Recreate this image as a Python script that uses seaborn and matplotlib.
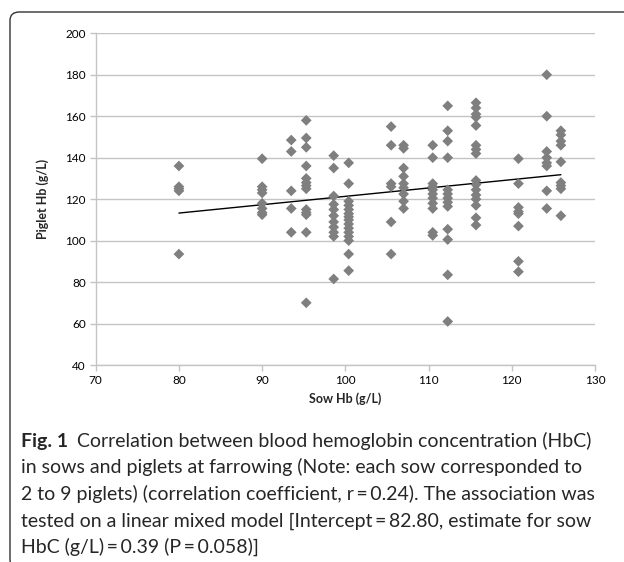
import numpy as np
import pandas as pd
import matplotlib.pyplot as plt
import seaborn as sns
from matplotlib.patches import FancyBboxPatch

# sow Hb (g/L) and the piglet Hb values measured for each sow
sow_hb = [80, 90, 93.5, 95.3, 98.6, 100.4, 105.5, 107, 110.5, 112.3, 115.7, 120.8, 124.2, 125.9]
piglet_hb = [
    [136, 126, 125, 124, 93.5],
    [139.5, 126, 124.5, 123, 118, 115.5, 113.5, 112.5],
    [148.5, 143, 124, 115.5, 104],
    [158, 149.5, 145, 136, 130, 128, 126.5, 125, 115, 113.5, 112.5, 104, 70],
    [141, 135, 121.5, 117.5, 115, 112, 109, 106.5, 104, 102, 81.5],
    [137.5, 127.5, 119, 117, 115, 113, 111.5, 110, 108, 106, 104, 102, 100, 93.5, 85.5],
    [155, 146, 127.5, 126, 109, 93.5],
    [146, 144.5, 135, 131, 127.5, 125.5, 122.5, 119, 115.5],
    [146, 140, 127.5, 126, 124.5, 122.5, 120.5, 118, 115.5, 104, 102.5],
    [165, 153, 148, 140, 124.5, 122.5, 120.5, 118.5, 116.5, 105.5, 100.5, 83.5, 61],
    [166.5, 164, 161, 159.5, 155.5, 146, 144, 142, 129, 127, 124.5, 122, 120, 117, 111, 107.5],
    [139.5, 127.5, 116, 114, 113, 107, 90, 85],
    [180, 160, 143, 140, 137.5, 136, 124, 115.5],
    [153, 151, 148, 146, 138, 128, 126.5, 125, 112],
]
x_ticks = [70, 80, 90, 100, 110, 120, 130]
y_ticks = [40, 60, 80, 100, 120, 140, 160, 180, 200]

caption_bold = "Fig. 1"
caption_lines = [
    "Correlation between blood hemoglobin concentration (HbC)",
    "in sows and piglets at farrowing (Note: each sow corresponded to",
    "2 to 9 piglets) (correlation coefficient, r\u2009=\u20090.24). The association was",
    "tested on a linear mixed model [Intercept\u2009=\u200982.80, estimate for sow",
    "HbC (g/L)\u2009=\u20090.39 (P\u2009=\u20090.058)]",
]

df = pd.DataFrame({
    "sow": [s for s, p in zip(sow_hb, piglet_hb) for _ in p],
    "piglet": [v for p in piglet_hb for v in p],
})

sns.set_theme(style="white")
plt.rcParams["font.family"] = ["Lato", "DejaVu Sans"]

W, H = 624, 562
fig = plt.figure(figsize=(W / 100, H / 100), dpi=100)
ax = fig.add_axes([95.7 / W, 1 - 365 / H, (595 - 95.7) / W, (365 - 33.3) / H])

sns.scatterplot(data=df, x="sow", y="piglet", marker="D", s=30, color="#7f7f7f",
                edgecolor="none", ax=ax, zorder=3)
sns.regplot(data=df, x="sow", y="piglet", scatter=False, ci=None, truncate=True,
            line_kws={"color": "black", "lw": 1}, ax=ax)

ax.set_xlim(70, 130)
ax.set_ylim(40, 200)
ax.set_xticks(x_ticks)
ax.set_yticks(y_ticks)
ax.yaxis.grid(True, color="#c4c4c4", lw=1)
ax.set_axisbelow(True)
for side in ["top", "right"]:
    ax.spines[side].set_visible(False)
for side in ["left", "bottom"]:
    ax.spines[side].set_color("#c4c4c4")
    ax.spines[side].set_linewidth(1)
ax.tick_params(axis="both", direction="out", length=4, width=1, color="#c4c4c4",
               labelsize=8.5, labelcolor="black", pad=3)
ax.tick_params(axis="x", bottom=True)
ax.tick_params(axis="y", left=True)
ax.set_xlabel("Sow Hb (g/L)", fontsize=9, fontweight="bold", labelpad=5)
ax.set_ylabel("Piglet Hb (g/L)", fontsize=9, fontweight="bold", labelpad=12)

# caption under the chart
def fx(px):
    return px / W

def fy(py):
    return 1 - py / H

cap_size = 14
line_y = [441, 467, 494, 521, 547]
bold = fig.text(fx(21), fy(line_y[0]), caption_bold, fontsize=cap_size,
                fontweight="bold", va="center")
renderer = fig.canvas.get_renderer()
bold_right = bold.get_window_extent(renderer).x1
for i, (txt, yy) in enumerate(zip(caption_lines, line_y)):
    x0 = fx(bold_right + 9) if i == 0 else fx(21)
    fig.text(x0, fy(yy), txt, fontsize=cap_size, va="center")

# rounded frame around chart and caption, open to the right and bottom
frame = FancyBboxPatch((fx(10), fy(568)), fx(700), fy(12) - fy(568),
                       boxstyle="round,pad=0,rounding_size=0.015", transform=fig.transFigure,
                       fill=False, edgecolor="#333333", lw=1, clip_on=False)
fig.patches.append(frame)

fig.savefig("out.png", dpi=100)
